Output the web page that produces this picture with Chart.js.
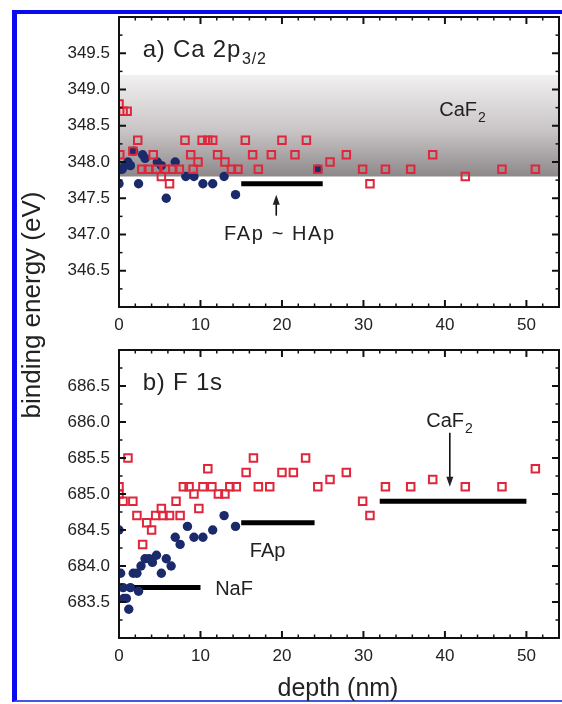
<!DOCTYPE html>
<html>
<head>
<meta charset="utf-8">
<script src="https://cdn.jsdelivr.net/npm/chart.js@4.4.0/dist/chart.umd.min.js"></script>
<style>
  body { margin: 0; background: #fff; }
  #wrap { position: relative; width: 562px; height: 704px; overflow: hidden; font-family: "Liberation Sans", Arial, sans-serif; color: #222; }
  #frame { position: absolute; left: 12px; top: 10px; width: 600px; height: 692px; box-sizing: border-box;
           border-left: 5px solid #0a0af0; border-top: 4px solid #0a0af0; border-bottom: 2px solid #4656e6; }
  canvas { position: absolute; left: 0; }
  #chartA { top: 0; }
  #chartB { top: 338px; }
  #yTitle { position: absolute; left: -119px; top: 290px; width: 300px; height: 30px; line-height: 30px;
            text-align: center; font-size: 26px; transform: rotate(-90deg); }
  #xTitle { position: absolute; left: 238px; top: 672px; width: 200px; height: 30px; line-height: 30px;
            text-align: center; font-size: 25px; }
</style>
</head>
<body>
<div id="wrap">
  <div id="frame"></div>
  <canvas id="chartA" width="562" height="338"></canvas>
  <canvas id="chartB" width="562" height="366"></canvas>
  <div id="yTitle">binding energy (eV)</div>
  <div id="xTitle">depth (nm)</div>
</div>
<script>
// a) Ca 2p3/2 - open squares
const caSqDepth = [0.0, 0.5, 1.0, 0.1, 1.7, 2.3, 2.8, 3.6, 4.2, 4.6, 5.2, 5.7, 6.2, 6.6, 7.4, 8.1, 8.8, 9.1, 9.7, 10.2, 10.9, 11.5, 12.1, 13.0, 13.8, 14.6, 15.5, 16.4, 17.1, 18.7, 20.0, 21.6, 23.0, 24.4, 25.9, 27.9, 29.9, 30.8, 32.7, 35.8, 38.5, 42.5, 47.0, 51.1];
const caSqEnergy = [348.8, 348.7, 348.7, 348.1, 348.15, 348.3, 347.9, 347.9, 348.1, 347.9, 347.8, 347.9, 347.7, 347.9, 347.9, 348.3, 348.1, 347.9, 348.0, 348.3, 348.3, 348.3, 348.1, 348.0, 347.9, 347.9, 348.3, 348.1, 347.9, 348.1, 348.3, 348.1, 348.3, 347.9, 348.0, 348.1, 347.9, 347.7, 347.9, 347.9, 348.1, 347.8, 347.9, 347.9];
// a) Ca 2p3/2 - filled circles
const caDotDepth = [0.0, 0.1, 0.4, 0.7, 1.1, 1.4, 1.8, 2.4, 2.9, 3.2, 4.7, 5.2, 5.8, 6.9, 8.2, 9.2, 10.3, 11.5, 12.9, 14.3, 24.4];
const caDotEnergy = [347.7, 347.9, 347.9, 347.95, 348.0, 347.95, 348.15, 347.7, 348.1, 348.05, 348.0, 347.95, 347.5, 348.0, 347.8, 347.8, 347.7, 347.7, 347.8, 347.55, 347.9];

// b) F 1s - open squares
const fSqDepth = [0.0, 0.0, 0.5, 1.1, 1.7, 2.2, 2.9, 3.4, 4.0, 4.5, 5.2, 5.4, 6.2, 7.0, 7.5, 7.9, 8.6, 9.2, 9.8, 10.3, 10.9, 11.4, 12.2, 13.0, 13.6, 14.4, 15.6, 16.5, 17.1, 18.5, 20.0, 21.4, 22.9, 24.4, 25.9, 27.9, 29.9, 30.8, 32.7, 35.8, 38.5, 42.5, 47.0, 51.1];
const fSqEnergy = [685.1, 685.0, 684.9, 685.5, 684.9, 684.7, 684.3, 684.6, 684.5, 684.7, 684.8, 684.7, 684.7, 684.9, 684.7, 685.1, 685.1, 685.0, 684.8, 685.1, 685.35, 685.1, 685.0, 685.0, 685.1, 685.1, 685.3, 685.5, 685.1, 685.1, 685.3, 685.3, 685.5, 685.1, 685.2, 685.3, 684.9, 684.7, 685.1, 685.1, 685.2, 685.1, 685.1, 685.35];
// b) F 1s - filled circles
const fDotDepth = [0.0, 0.2, 0.5, 0.6, 0.9, 1.2, 1.4, 1.75, 2.2, 2.4, 2.7, 3.2, 3.7, 4.1, 4.6, 5.2, 5.8, 6.4, 6.9, 7.5, 8.4, 9.2, 10.3, 11.5, 12.9, 14.3];
const fDotEnergy = [684.5, 683.9, 683.7, 683.55, 683.55, 683.4, 683.7, 683.9, 683.9, 683.65, 684.0, 684.1, 684.1, 684.05, 684.15, 683.9, 684.1, 684.0, 684.4, 684.3, 684.55, 684.4, 684.4, 684.5, 684.7, 684.55];

// reference levels (depth range + energy)
const fapHapRange = [15, 25], fapHapLevel = 347.7;
const nafRange = [0, 10], nafLevel = 683.7;
const fapRange = [15, 24], fapLevel = 684.6;
const caf2Range = [32, 50], caf2Level = 684.9;
const caf2Band = [347.8, 349.2];

const depthMax = 54;
const caLimits = [346, 350];
const fLimits = [683, 687];

const RED = "#e0263a";
const NAVY = "#1b2a6b";
const FONT = "'Liberation Sans', Arial, sans-serif";

function pts(xs, ys) {
  return xs.map((x, i) => ({ x: x, y: ys[i] }));
}

function squares(xs, ys) {
  return {
    data: pts(xs, ys), pointStyle: "rect", pointRadius: 5.3, pointBorderWidth: 2,
    borderColor: RED, backgroundColor: "rgba(0,0,0,0)", order: 1,
  };
}
function dots(xs, ys) {
  return {
    data: pts(xs, ys), pointStyle: "circle", pointRadius: 4.7, pointBorderWidth: 0,
    borderColor: NAVY, backgroundColor: NAVY, order: 2,
  };
}
function level(range, e) {
  return {
    data: pts(range, [e, e]), showLine: true, pointRadius: 0, borderColor: "#000",
    borderWidth: 5, borderCapStyle: "butt", order: 3,
  };
}

// frame and inward ticks on all four sides
const frameTicks = {
  id: "frameTicks",
  afterDraw(chart) {
    const { ctx, chartArea: a, scales: { x, y } } = chart;
    ctx.save();
    ctx.strokeStyle = "#111";
    ctx.lineWidth = 2;
    const seg = (x0, y0, x1, y1) => { ctx.beginPath(); ctx.moveTo(x0, y0); ctx.lineTo(x1, y1); ctx.stroke(); };
    for (let i = 0; i * 2 <= x.max; i++) {
      const px = x.getPixelForValue(i * 2);
      const len = i % 5 === 0 ? 7 : 3.5;
      ctx.lineWidth = i % 5 === 0 ? 2 : 1.5;
      seg(px, a.bottom, px, a.bottom - len);
      seg(px, a.top, px, a.top + len);
    }
    const steps = Math.round((y.max - y.min) / 0.25);
    for (let i = 1; i < steps; i++) {
      const py = y.getPixelForValue(y.min + i * 0.25);
      const len = i % 2 === 0 ? 7 : 3.5;
      ctx.lineWidth = i % 2 === 0 ? 2 : 1.5;
      seg(a.left, py, a.left + len, py);
      seg(a.right, py, a.right - len, py);
    }
    ctx.lineWidth = 2;
    ctx.strokeRect(a.left, a.top, a.right - a.left, a.bottom - a.top);
    ctx.restore();
  },
};

// gray gradient band, arrows and labels
function extras(opts) {
  return {
    id: "extras",
    beforeDatasetsDraw(chart) {
      if (!opts.band) return;
      const { ctx, chartArea: a, scales: { y } } = chart;
      const top = y.getPixelForValue(opts.band[1]);
      const bot = y.getPixelForValue(opts.band[0]);
      const g = ctx.createLinearGradient(0, top, 0, bot);
      g.addColorStop(0, "#f2f0f0");
      g.addColorStop(0.55, "#c9c5c6");
      g.addColorStop(1, "#8d888a");
      ctx.save();
      ctx.fillStyle = g;
      ctx.fillRect(a.left, top, a.right - a.left, bot - top);
      ctx.restore();
    },
    afterDatasetsDraw(chart) {
      const { ctx, scales: { x, y } } = chart;
      ctx.save();
      ctx.fillStyle = "#222";
      ctx.strokeStyle = "#111";
      ctx.lineWidth = 1.6;
      (opts.arrows || []).forEach((ar) => {
        const px = x.getPixelForValue(ar.x);
        const p0 = y.getPixelForValue(ar.from);
        const p1 = y.getPixelForValue(ar.to);
        const dir = p1 < p0 ? -1 : 1;
        ctx.beginPath(); ctx.moveTo(px, p0); ctx.lineTo(px, p1 - dir * 6); ctx.stroke();
        ctx.beginPath();
        ctx.moveTo(px, p1);
        ctx.lineTo(px - 3.5, p1 - dir * 10);
        ctx.lineTo(px + 3.5, p1 - dir * 10);
        ctx.closePath();
        ctx.fill();
      });
      (opts.notes || []).forEach((n) => {
        const px = x.getPixelForValue(n.x);
        const py = y.getPixelForValue(n.y);
        ctx.font = n.size + "px " + FONT;
        ctx.letterSpacing = (n.spacing || 0) + "px";
        ctx.textBaseline = "alphabetic";
        ctx.fillText(n.text, px, py);
        if (n.sub) {
          const w = ctx.measureText(n.text).width;
          ctx.font = Math.round(n.size * 0.68) + "px " + FONT;
          ctx.fillText(n.sub, px + w + 1, py + n.size * 0.28);
        }
      });
      ctx.restore();
    },
  };
}

// label gaps come from tickLength (marks hidden) so ticks.padding stays 0
// and chart.js does not add extra room round the plot area
function makeChart(id, datasets, limits, pad, xHeight, opts) {
  new Chart(document.getElementById(id).getContext("2d"), {
    type: "scatter",
    data: { datasets: datasets },
    options: {
      responsive: false,
      animation: false,
      layout: { autoPadding: false, padding: { top: pad, right: 3, left: 0, bottom: 0 } },
      plugins: { legend: { display: false }, tooltip: { enabled: false } },
      scales: {
        x: {
          type: "linear", min: 0, max: depthMax,
          grid: { display: false, drawTicks: true, tickLength: 8 }, border: { display: false },
          afterFit: (s) => { s.height = xHeight; },
          ticks: {
            stepSize: 10, autoSkip: false, maxRotation: 0, padding: 0, color: "#222",
            font: { size: 17, family: FONT },
            callback: (v) => (v % 10 === 0 ? v : ""),
          },
        },
        y: {
          type: "linear", min: limits[0], max: limits[1],
          grid: { display: false, drawTicks: true, tickLength: 9 }, border: { display: false },
          afterFit: (s) => { s.width = 119; },
          ticks: {
            stepSize: 0.5, autoSkip: false, padding: 0, color: "#222",
            font: { size: 17, family: FONT },
            callback: (v) => (v === limits[0] || v === limits[1] ? "" : v.toFixed(1)),
          },
        },
      },
    },
    plugins: [frameTicks, extras(opts)],
  });
}

makeChart("chartA", [
  squares(caSqDepth, caSqEnergy),
  dots(caDotDepth, caDotEnergy),
  level(fapHapRange, fapHapLevel),
], caLimits, 17, 31, {
  band: caf2Band,
  arrows: [{ x: 19.3, from: 347.26, to: 347.55 }],
  notes: [
    { text: "a) Ca 2p", sub: "3/2", x: 2.9, y: 349.45, size: 24, spacing: 0.8 },
    { text: "CaF", sub: "2", x: 39.3, y: 348.63, size: 20 },
    { text: "FAp ~ HAp", x: 12.9, y: 346.92, size: 20, spacing: 1.6 },
  ],
});

makeChart("chartB", [
  squares(fSqDepth, fSqEnergy),
  dots(fDotDepth, fDotEnergy),
  level(nafRange, nafLevel),
  level(fapRange, fapLevel),
  level(caf2Range, caf2Level),
], fLimits, 12, 66, {
  arrows: [{ x: 40.6, from: 685.85, to: 685.1 }],
  notes: [
    { text: "b) F 1s", x: 2.9, y: 686.45, size: 24, spacing: 0.8 },
    { text: "CaF", sub: "2", x: 37.7, y: 685.93, size: 20 },
    { text: "FAp", x: 16.05, y: 684.13, size: 20 },
    { text: "NaF", x: 11.8, y: 683.6, size: 20 },
  ],
});
</script>
</body>
</html>
